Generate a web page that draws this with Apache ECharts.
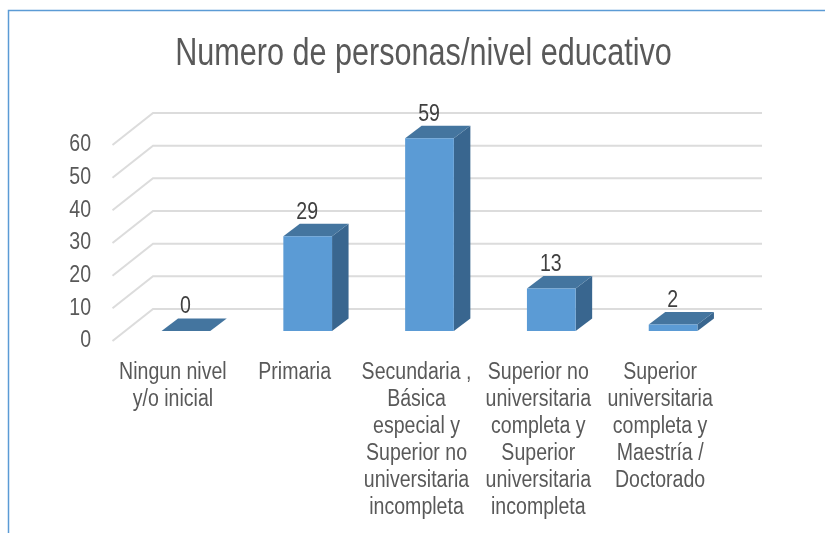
<!DOCTYPE html>
<html>
<head>
<meta charset="utf-8">
<script src="https://cdn.jsdelivr.net/npm/echarts@6/dist/echarts.min.js"></script>
<style>
  html, body { margin: 0; padding: 0; background: #fff; }
  #chart { width: 825px; height: 533px; }
</style>
</head>
<body>
<div id="chart"></div>
<script>
const categories = [
  'Ningun nivel\ny/o inicial',
  'Primaria',
  'Secundaria ,\nBásica\nespecial y\nSuperior no\nuniversitaria\nincompleta',
  'Superior no\nuniversitaria\ncompleta y\nSuperior\nuniversitaria\nincompleta',
  'Superior\nuniversitaria\ncompleta y\nMaestría /\nDoctorado'
]
const values = [0, 29, 59, 13, 2]
const yTicks = [0, 10, 20, 30, 40, 50, 60]

const fontName = '"Liberation Sans", Arial, sans-serif'
const labelFont = '23px ' + fontName
// 原图文字偏窄，用横向缩放
const narrow = 0.85

// 柱子在中间平面，墙和地面相对它偏移
const backDx = 28
const backDy = -22
const frontDx = -12.5
const frontDy = 10
const barDx = 16.5
const barDy = -12.5

const chart = echarts.init(document.getElementById('chart'), null, { renderer: 'canvas' })

// 背景网格线
const renderWall = (params, api) => {
  const pos = api.coord([0, api.value(1)])
  const band = api.size([1, 0])[0]
  const left = pos[0] - band / 2
  const right = left + band * categories.length
  return {
    type: 'polyline',
    silent: true,
    shape: {
      points: [
        [left + frontDx, pos[1] + frontDy],
        [left + backDx, pos[1] + backDy],
        [right + backDx, pos[1] + backDy]
      ]
    },
    style: { fill: null, stroke: '#dcdcdc', lineWidth: 2 }
  }
}

// 3D柱子：正面、顶面、侧面加数值
const renderBar = (params, api) => {
  const top = api.coord([api.value(0), api.value(1)])
  const base = api.coord([api.value(0), 0])
  const w = api.size([1, 0])[0] * 0.4
  const x0 = top[0] - w / 2
  const x1 = top[0] + w / 2
  const children = [
    {
      type: 'polygon',
      shape: { points: [[x1, top[1]], [x1 + barDx, top[1] + barDy], [x1 + barDx, base[1] + barDy], [x1, base[1]]] },
      style: { fill: '#39668f' }
    },
    {
      type: 'polygon',
      shape: { points: [[x0, top[1]], [x0 + barDx, top[1] + barDy], [x1 + barDx, top[1] + barDy], [x1, top[1]]] },
      style: { fill: '#44759f' }
    }
  ]
  if (base[1] > top[1]) {
    children.push({
      type: 'rect',
      shape: { x: x0, y: top[1], width: w, height: base[1] - top[1] },
      style: { fill: '#5b9bd5' }
    })
  }
  children.push({
    type: 'text',
    x: top[0] - 0.5,
    y: top[1] - 24,
    scaleX: narrow,
    style: {
      text: String(api.value(1)),
      fill: '#404040',
      font: labelFont,
      align: 'center',
      verticalAlign: 'middle'
    }
  })
  return { type: 'group', children }
}

// 数值轴标签
const renderTick = (params, api) => {
  const pos = api.coord([0, api.value(1)])
  const band = api.size([1, 0])[0]
  return {
    type: 'text',
    x: pos[0] - band / 2 - 21.5,
    y: pos[1],
    scaleX: narrow,
    style: {
      text: String(api.value(1)),
      fill: '#595959',
      font: labelFont,
      align: 'right',
      verticalAlign: 'middle'
    }
  }
}

// 分类轴标签
const renderCategory = (params, api) => {
  const pos = api.coord([api.value(0), 0])
  return {
    type: 'text',
    x: pos[0] - 0.5,
    y: pos[1] + 18,
    scaleX: narrow,
    style: {
      text: categories[api.value(0)],
      fill: '#595959',
      font: labelFont,
      lineHeight: 27,
      align: 'center',
      verticalAlign: 'top'
    }
  }
}

const option = {
  backgroundColor: '#fff',
  animation: false,
  graphic: [
    {
      type: 'polyline',
      silent: true,
      shape: { points: [[8.5, 533], [8.5, 10.5], [825, 10.5]] },
      style: { fill: null, stroke: '#5b9bd5', lineWidth: 1.5 }
    },
    {
      type: 'text',
      x: 423.5,
      y: 55,
      scaleX: 0.805,
      style: {
        text: 'Numero de personas/nivel educativo',
        fill: '#595959',
        font: '38px ' + fontName,
        align: 'center',
        verticalAlign: 'middle'
      }
    }
  ],
  grid: [
    { left: 125, top: 135, width: 609, height: 196 },
    { left: 112.5, top: 145, width: 609, height: 196 }
  ],
  xAxis: [
    { type: 'category', gridIndex: 0, data: categories, show: false },
    { type: 'category', gridIndex: 1, data: categories, show: false }
  ],
  yAxis: [
    { type: 'value', gridIndex: 0, min: 0, max: 60, interval: 10, show: false },
    { type: 'value', gridIndex: 1, min: 0, max: 60, interval: 10, show: false }
  ],
  series: [
    {
      type: 'custom',
      name: 'ejes',
      xAxisIndex: 0,
      yAxisIndex: 0,
      clip: false,
      z: 1,
      renderItem: renderWall,
      data: yTicks.map((t) => [0, t])
    },
    {
      type: 'custom',
      name: 'Numero de personas',
      xAxisIndex: 0,
      yAxisIndex: 0,
      clip: false,
      z: 2,
      renderItem: renderBar,
      data: values.map((v, i) => [i, v])
    },
    {
      type: 'custom',
      name: 'valores',
      xAxisIndex: 1,
      yAxisIndex: 1,
      clip: false,
      z: 3,
      renderItem: renderTick,
      data: yTicks.map((t) => [0, t])
    },
    {
      type: 'custom',
      name: 'categorias',
      xAxisIndex: 1,
      yAxisIndex: 1,
      clip: false,
      z: 3,
      renderItem: renderCategory,
      data: categories.map((c, i) => [i, 0])
    }
  ]
}
chart.setOption(option)
</script>
</body>
</html>
